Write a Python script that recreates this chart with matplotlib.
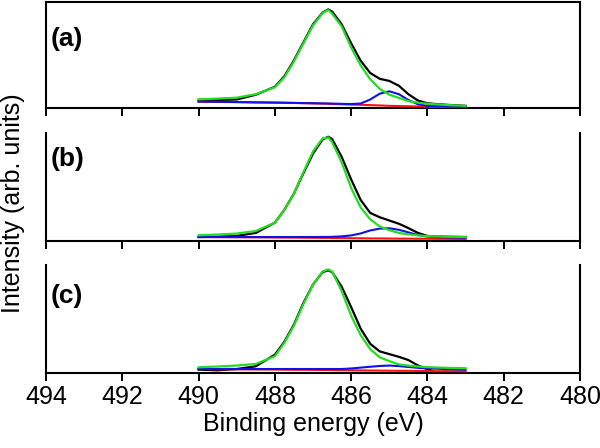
import matplotlib
matplotlib.use("Agg")
import matplotlib.pyplot as plt
import numpy as np

# binding energy grid (eV) and curves in panel-relative intensity units
energy = [490, 489.5, 489, 488.5, 488, 487.75, 487.5, 487.25, 487, 486.75, 486.6, 486.5,
          486.25, 486, 485.75, 485.5, 485.25, 485, 484.75, 484.5, 484.25, 484, 483.75, 483.5, 483]

black_a = [0.069, 0.075, 0.080, 0.125, 0.20, 0.30, 0.45, 0.62, 0.79, 0.90, 0.93, 0.91,
           0.79, 0.61, 0.445, 0.33, 0.275, 0.255, 0.21, 0.13, 0.07, 0.044, 0.036, 0.03, 0.02]
green_a = [0.082, 0.088, 0.097, 0.13, 0.195, 0.29, 0.44, 0.61, 0.78, 0.895, 0.925, 0.89,
           0.77, 0.57, 0.40, 0.27, 0.18, 0.125, 0.095, 0.065, 0.05, 0.04, 0.034, 0.028, 0.02]
blue_a = [0.060, 0.058, 0.056, 0.053, 0.051, 0.050, 0.048, 0.046, 0.045, 0.043, 0.042, 0.041,
          0.039, 0.037, 0.042, 0.080, 0.135, 0.157, 0.130, 0.075, 0.035, 0.020, 0.017, 0.015, 0.013]
red_a = [0.060, 0.057, 0.055, 0.052, 0.050, 0.048, 0.047, 0.045, 0.043, 0.041, 0.040, 0.038,
         0.035, 0.032, 0.030, 0.027, 0.024, 0.020, 0.018, 0.016, 0.014, 0.012, 0.010, 0.009, 0.006]

black_b = [0.037, 0.040, 0.047, 0.075, 0.17, 0.29, 0.44, 0.63, 0.81, 0.94, 0.966, 0.945,
           0.78, 0.57, 0.38, 0.26, 0.22, 0.19, 0.16, 0.12, 0.075, 0.047, 0.042, 0.040, 0.037]
green_b = [0.053, 0.060, 0.069, 0.093, 0.17, 0.29, 0.44, 0.64, 0.83, 0.95, 0.96, 0.915,
           0.73, 0.49, 0.31, 0.20, 0.135, 0.10, 0.075, 0.062, 0.052, 0.046, 0.043, 0.040, 0.037]
blue_b = [0.037, 0.037, 0.037, 0.037, 0.037, 0.037, 0.037, 0.037, 0.037, 0.038, 0.038, 0.039,
          0.043, 0.052, 0.070, 0.098, 0.115, 0.118, 0.104, 0.080, 0.055, 0.042, 0.037, 0.034, 0.031]
red_b = [0.037, 0.036, 0.035, 0.034, 0.033, 0.032, 0.032, 0.031, 0.030, 0.029, 0.029, 0.028,
         0.027, 0.026, 0.025, 0.024, 0.024, 0.023, 0.022, 0.022, 0.021, 0.021, 0.020, 0.020, 0.019]

black_c = [0.031, 0.025, 0.037, 0.062, 0.17, 0.29, 0.45, 0.65, 0.82, 0.935, 0.95, 0.935,
           0.80, 0.61, 0.41, 0.27, 0.20, 0.175, 0.15, 0.12, 0.07, 0.035, 0.006, np.nan, np.nan]
green_c = [0.053, 0.060, 0.069, 0.084, 0.156, 0.28, 0.44, 0.64, 0.82, 0.94, 0.96, 0.94,
           0.76, 0.53, 0.35, 0.22, 0.145, 0.11, 0.08, 0.068, 0.06, 0.054, 0.051, 0.048, 0.044]
blue_c = [0.037, 0.037, 0.037, 0.037, 0.037, 0.037, 0.037, 0.037, 0.037, 0.037, 0.037, 0.037,
          0.037, 0.042, 0.050, 0.058, 0.065, 0.069, 0.064, 0.056, 0.048, 0.043, 0.040, 0.036, 0.031]
red_c = [0.037, 0.035, 0.034, 0.033, 0.032, 0.031, 0.030, 0.030, 0.029, 0.028, 0.028, 0.027,
         0.026, 0.025, 0.024, 0.023, 0.022, 0.021, 0.020, 0.020, 0.019, 0.018, 0.017, 0.017, 0.016]

panels = [("(a)", black_a, green_a, blue_a, red_a),
          ("(b)", black_b, green_b, blue_b, red_b),
          ("(c)", black_c, green_c, blue_c, red_c)]
xticks = [494, 492, 490, 488, 486, 484, 482, 480]

plt.rcParams["font.family"] = ["Liberation Sans", "DejaVu Sans"]

fig = plt.figure(figsize=(6, 4.48), dpi=100)
boxes = [(0.0767, 0.759, 0.89, 0.2366), (0.0767, 0.462, 0.89, 0.241), (0.0767, 0.1674, 0.89, 0.241)]
label_y = [0.912, 0.645, 0.34]

for i, (box, (tag, black, green, blue, red)) in enumerate(zip(boxes, panels)):
    ax = fig.add_axes(box)
    ax.plot(energy, black, color="black", lw=1.6, zorder=2, solid_joinstyle="round")
    ax.plot(energy, red, color="#ff1010", lw=1.5, zorder=3)
    ax.plot(energy, blue, color="#1010e8", lw=1.5, zorder=4, solid_joinstyle="round")
    ax.plot(energy, green, color="#22dd22", lw=1.6, zorder=5, solid_joinstyle="round")
    ax.set_xlim(494, 480)
    ax.set_ylim(0, 1)
    ax.set_yticks([])
    ax.set_xticks(xticks)
    ax.tick_params(axis="x", direction="out", length=5.5, width=1.4, labelsize=18, pad=3)
    for side in ax.spines.values():
        side.set_linewidth(1.5)
    if i > 0:
        ax.spines["top"].set_visible(False)
    if i < 2:
        ax.tick_params(axis="x", labelbottom=False)
    else:
        ax.set_xlabel("Binding energy (eV)", fontsize=18, labelpad=2)
    fig.text(0.085, label_y[i], tag, fontsize=19, fontweight="bold", va="center", ha="left")

fig.text(0.022, 0.547, "Intensity (arb. units)", fontsize=18, rotation=90, va="center", ha="center")

fig.savefig("out.png", dpi=100)
plt.close(fig)
